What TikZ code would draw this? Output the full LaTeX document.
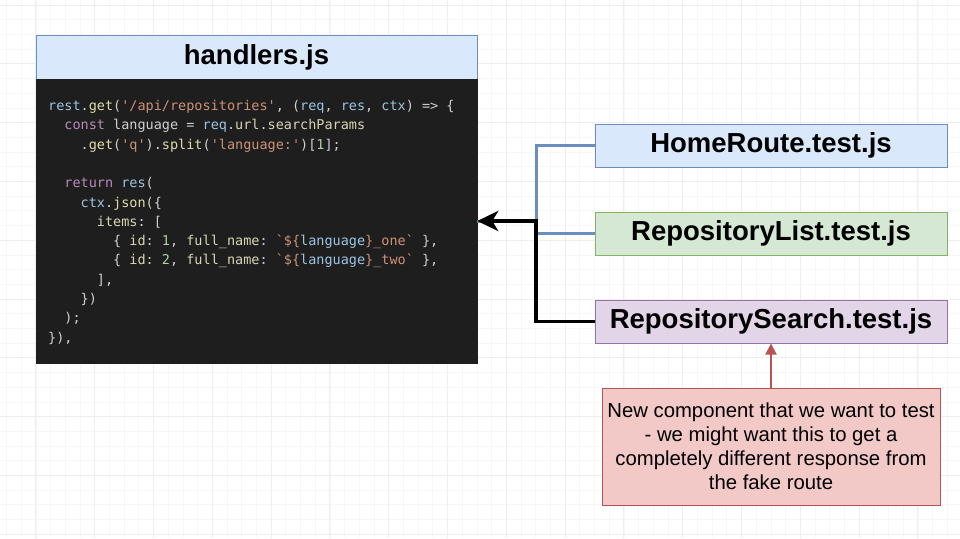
\documentclass[tikz,border=0pt]{standalone}
\usepackage{fontspec}
\setmainfont{Liberation Sans}
\setsansfont{Liberation Sans}
\setmonofont{DejaVu Sans Mono}
\usetikzlibrary{arrows.meta}
\definecolor{gridminor}{HTML}{F7F7F7}
\definecolor{gridmajor}{HTML}{EEEEEE}
\definecolor{bluefill}{HTML}{DAE8FC}
\definecolor{blueline}{HTML}{6C8EBF}
\definecolor{greenfill}{HTML}{D5E8D4}
\definecolor{greenline}{HTML}{82B366}
\definecolor{purplefill}{HTML}{E1D5E7}
\definecolor{purpleline}{HTML}{9673A6}
\definecolor{redfill}{HTML}{F2C9C7}
\definecolor{redline}{HTML}{B85450}
\definecolor{codebg}{HTML}{1E1E1E}
\definecolor{cdef}{HTML}{D0D0D0}
\definecolor{cvar}{HTML}{9CC4E4}
\definecolor{cfn}{HTML}{DCDCAA}
\definecolor{cprop}{HTML}{D6D6B4}
\definecolor{cstr}{HTML}{CE9178}
\definecolor{ckw}{HTML}{B98AB9}
\definecolor{cnum}{HTML}{B5CEA8}
\newcommand\cVar[1]{\textcolor{cvar}{#1}}
\newcommand\cFn[1]{\textcolor{cfn}{#1}}
\newcommand\cProp[1]{\textcolor{cprop}{#1}}
\newcommand\cStr[1]{\textcolor{cstr}{#1}}
\newcommand\cKw[1]{\textcolor{ckw}{#1}}
\newcommand\cNum[1]{\textcolor{cnum}{#1}}
\newcommand\cInd[1]{\hspace*{#1\fontcharwd\font`x}}
\tikzset{
  titlebox/.style={draw, line width=1pt, minimum width=352pt, minimum height=43pt, inner sep=0pt,
    font=\fontsize{27.5}{33}\selectfont\bfseries, text=black},
  codeline/.style={anchor=base west, inner sep=0pt, text=cdef, font=\fontsize{13.5}{16}\selectfont\ttfamily},
  edgeblue/.style={draw=blueline, line width=3pt, line join=miter},
  edgeblack/.style={draw=black, line width=3.5pt, line join=miter, -{Stealth[length=21pt, width=20pt, inset=6pt]}},
}
\begin{document}
\begin{tikzpicture}[x=1pt,y=-1pt]
\useasboundingbox (0,0) rectangle (960,538);
\fill[white] (0,0) rectangle (960,538);
% grid
\foreach \i in {0,...,66} {
  \draw[gridminor, line width=0.8pt] ({6.5+14.7*\i},0) -- ({6.5+14.7*\i},538);
}
\foreach \i in {0,...,37} {
  \draw[gridminor, line width=0.8pt] (0,{5+14.7*\i}) -- (960,{5+14.7*\i});
}
\foreach \i in {0,...,16} {
  \draw[gridmajor, line width=1pt] ({35.9+58.8*\i},0) -- ({35.9+58.8*\i},538);
}
\foreach \i in {0,...,9} {
  \draw[gridmajor, line width=1pt] (0,{5+58.8*\i}) -- (960,{5+58.8*\i});
}
% handlers
\node[titlebox, fill=bluefill, draw=blueline, minimum width=441pt, minimum height=44pt] (hdr) at (256.5,57) {handlers.js};
\node[fill=codebg, draw=codebg, minimum width=441pt, minimum height=284pt, inner sep=0pt] (code) at (256.5,221) {};
\node[codeline] (l1) at (48,110.5) {\cVar{rest}.\cFn{get}(\cStr{'/api/repositories'}, (\cVar{req}, \cVar{res}, \cVar{ctx}) => \{};
\node[codeline] (l2) at (48,129.8) {\cInd{2}\cKw{const} language = \cVar{req}.\cProp{url}.\cProp{searchParams}};
\node[codeline] (l3) at (48,149.1) {\cInd{4}.\cFn{get}(\cStr{'q'}).\cFn{split}(\cStr{'language:'})[\cNum{1}];};
\node[codeline] (l5) at (48,187.7) {\cInd{2}\cKw{return} \cVar{res}(};
\node[codeline] (l6) at (48,207.0) {\cInd{4}\cVar{ctx}.\cFn{json}(\{};
\node[codeline] (l7) at (48,226.3) {\cInd{6}\cProp{items}: [};
\node[codeline] (l8) at (48,245.6) {\cInd{8}\{ \cProp{id}: \cNum{1}, \cProp{full\_name}: \cStr{`\$\{}\cVar{language}\cStr{\}\_one`} \},};
\node[codeline] (l9) at (48,264.9) {\cInd{8}\{ \cProp{id}: \cNum{2}, \cProp{full\_name}: \cStr{`\$\{}\cVar{language}\cStr{\}\_two`} \},};
\node[codeline] (l10) at (48,284.2) {\cInd{6}],};
\node[codeline] (l11) at (48,303.5) {\cInd{4}\})};
\node[codeline] (l12) at (48,322.8) {\cInd{2});};
\node[codeline] (l13) at (48,342.1) {\}),};
% test boxes
\node[titlebox, fill=bluefill, draw=blueline] (home) at (771,145.5) {HomeRoute.test.js};
\node[titlebox, fill=greenfill, draw=greenline] (list) at (771,233.5) {RepositoryList.test.js};
\node[titlebox, fill=purplefill, draw=purpleline] (search) at (771,321.5) {RepositorySearch.test.js};
% note
\node[fill=redfill, draw=redline, line width=1pt, minimum width=338pt, minimum height=117pt, inner sep=0pt,
  align=center, font=\fontsize{20.3}{24}\selectfont] (note) at (771,446.5)
  {New component that we want to test\\- we might want this to get a\\completely different response from\\the fake route};
% connectors
\coordinate (j) at (536,221);
\draw[edgeblue] (home.west) -| (j) -- (code.east);
\draw[edgeblue] (list.west) -| (j);
\draw[edgeblack] (search.west) -| (j) -- (code.east);
\draw[draw=redline, line width=2pt, -{Triangle[length=11pt, width=11pt]}] (note.north) -- (search.south);
\end{tikzpicture}
\end{document}
